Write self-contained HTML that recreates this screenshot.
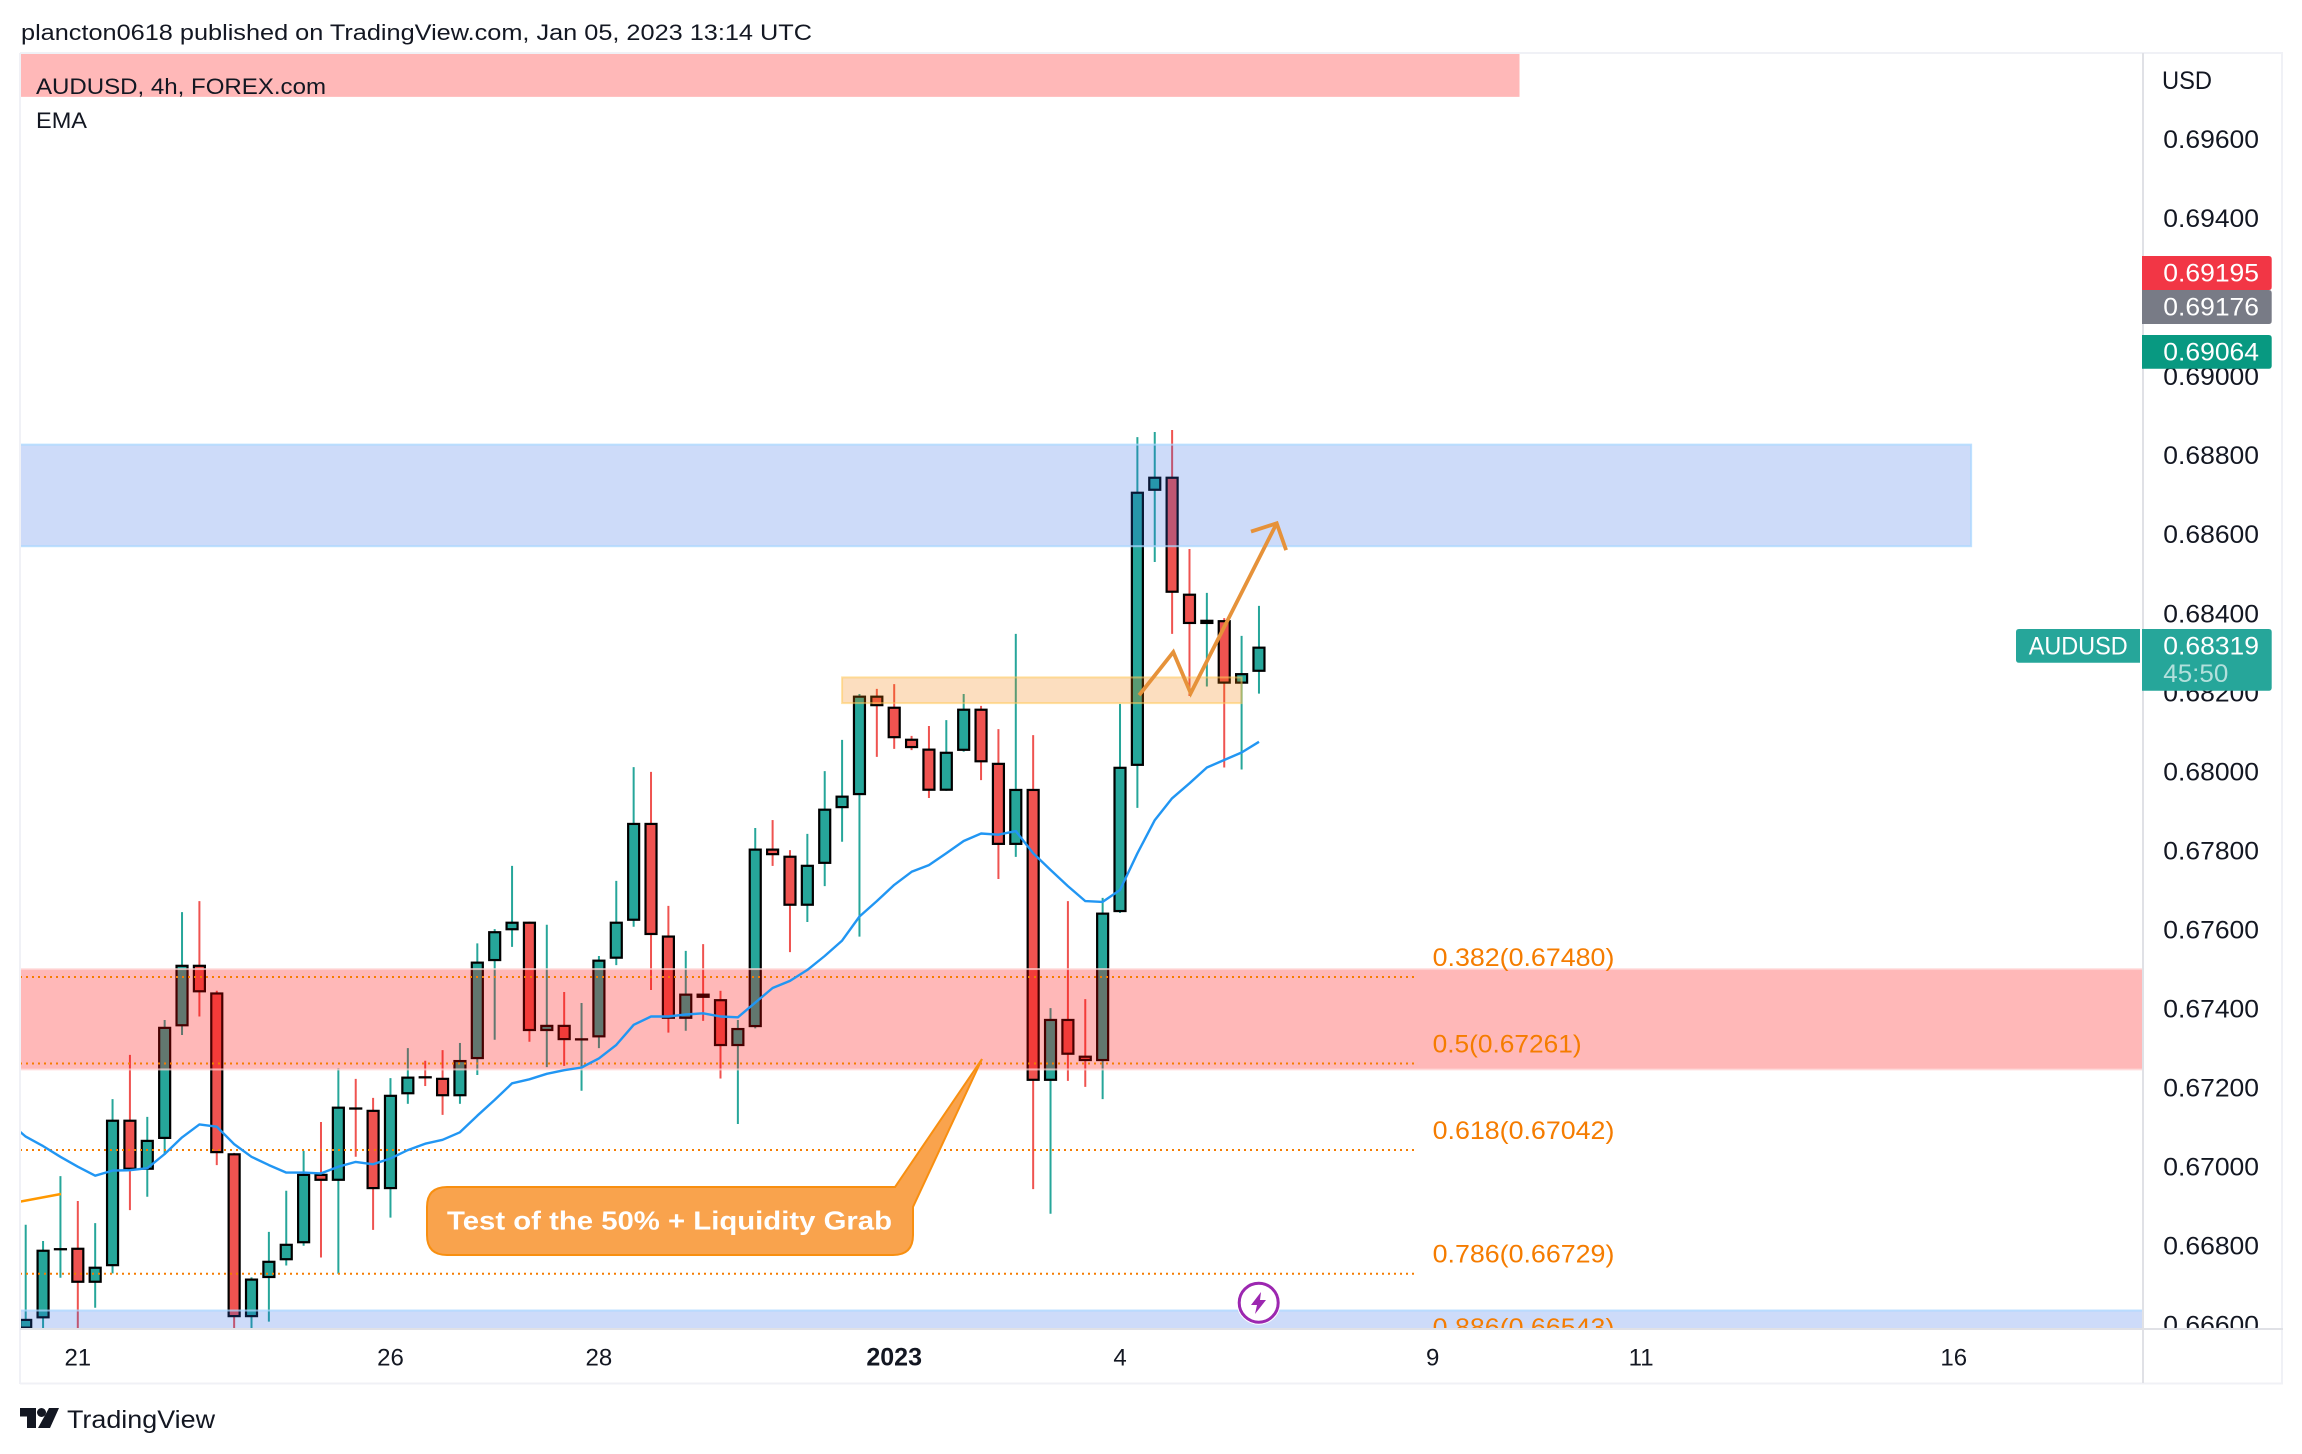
<!DOCTYPE html>
<html lang="en">
<head>
<meta charset="utf-8">
<title>AUDUSD 4h chart</title>
<style>
html,body{margin:0;padding:0;background:#fff;}
svg{display:block;}
text{font-family:"Liberation Sans",sans-serif;}
</style>
</head>
<body>
<svg id="chart" xmlns="http://www.w3.org/2000/svg" width="2302" height="1454" viewBox="0 0 2302 1454">
  <defs>
    <clipPath id="pane-clip"><rect x="20" y="53" width="2122" height="1275.5"/></clipPath>
    <clipPath id="price-axis-clip"><rect x="2144" y="53" width="138" height="1275.5"/></clipPath>
  </defs>
  <rect x="0" y="0" width="2302" height="1454" fill="#ffffff"/>
  <text x="21" y="40" font-size="22.4" fill="#131722" textLength="791" lengthAdjust="spacingAndGlyphs">plancton0618 published on TradingView.com, Jan 05, 2023 13:14 UTC</text>

  <g clip-path="url(#pane-clip)">
    <g id="candle-layer"></g>
    <g id="zone-layer"></g>
    <g id="fib-layer"></g>
    <path d="M20 1201.7L61 1194" fill="none" stroke="#ff9800" stroke-width="2.5"/>
    <path id="ema-line" fill="none" stroke="#2196f3" stroke-width="2.4" stroke-linejoin="round"/>
    <path id="arrow-path" fill="none" stroke="#e6923a" stroke-width="3.8" stroke-linejoin="miter"/>
    <path id="arrow-head" fill="none" stroke="#e6923a" stroke-width="3.8" stroke-linejoin="miter"/>
    <path d="M447 1187H895L982 1059L913 1207V1235Q913 1255 893 1255H447Q427 1255 427 1235V1207Q427 1187 447 1187Z" fill="#f9a34d" stroke="#f88f10" stroke-width="2"/>
    <text x="447" y="1229.5" font-size="26" font-weight="700" fill="#ffffff" textLength="445" lengthAdjust="spacingAndGlyphs">Test of the 50% + Liquidity Grab</text>
    <g>
      <circle cx="1258.7" cy="1302.7" r="22" fill="#ffffff"/>
      <circle cx="1258.7" cy="1302.7" r="19.5" fill="#ffffff" stroke="#9c27b0" stroke-width="3"/>
      <polygon points="1261,1292 1251,1305 1257,1305 1255,1314 1266,1300 1260,1300" fill="#9c27b0"/>
    </g>
    <text x="36" y="94" font-size="22.4" fill="#131722" textLength="290" lengthAdjust="spacingAndGlyphs">AUDUSD, 4h, FOREX.com</text>
    <text x="36" y="128" font-size="22.4" fill="#131722" textLength="51" lengthAdjust="spacingAndGlyphs">EMA</text>
  </g>

  <g id="price-axis" clip-path="url(#price-axis-clip)">
    <text x="2162" y="89" font-size="24.7" fill="#131722" textLength="50" lengthAdjust="spacingAndGlyphs">USD</text>
  </g>
  <g id="time-axis"></g>

  <g>
    <line x1="20" y1="53" x2="2283" y2="53" stroke="#f0f1f6" stroke-width="2"/>
    <line x1="20" y1="53" x2="20" y2="1384" stroke="#f0f1f6" stroke-width="2"/>
    <line x1="2282" y1="53" x2="2282" y2="1384" stroke="#f0f1f6" stroke-width="2"/>
    <line x1="20" y1="1383.5" x2="2283" y2="1383.5" stroke="#f0f1f6" stroke-width="2"/>
    <line x1="20" y1="1329" x2="2283" y2="1329" stroke="#e0e1e6" stroke-width="2"/>
    <line x1="2143" y1="53" x2="2143" y2="1383" stroke="#e0e1e6" stroke-width="2"/>
  </g>

  <g>
    <path d="M2142 256H2268.7Q2271.7 256 2271.7 259V287Q2271.7 290 2268.7 290H2142Z" fill="#f23645"/>
    <text x="2163.3" y="281.5" font-size="24.7" fill="#ffffff" textLength="95.7" lengthAdjust="spacingAndGlyphs">0.69195</text>
  </g>
  <g>
    <path d="M2142 290H2268.7Q2271.7 290 2271.7 293V321Q2271.7 324 2268.7 324H2142Z" fill="#787b86"/>
    <text x="2163.3" y="315.5" font-size="24.7" fill="#ffffff" textLength="95.7" lengthAdjust="spacingAndGlyphs">0.69176</text>
  </g>
  <g>
    <path d="M2142 335H2268.7Q2271.7 335 2271.7 338V365.7Q2271.7 368.7 2268.7 368.7H2142Z" fill="#089981"/>
    <text x="2163.3" y="360.5" font-size="24.7" fill="#ffffff" textLength="95.7" lengthAdjust="spacingAndGlyphs">0.69064</text>
  </g>
  <g>
    <path d="M2140 629H2019Q2016 629 2016 632V659.7Q2016 662.7 2019 662.7H2140Z" fill="#26a69a"/>
    <text x="2028.7" y="654.5" font-size="24.7" fill="#ffffff" textLength="99" lengthAdjust="spacingAndGlyphs">AUDUSD</text>
  </g>
  <g>
    <path d="M2142 629H2268.7Q2271.7 629 2271.7 632V687.7Q2271.7 690.7 2268.7 690.7H2142Z" fill="#26a69a"/>
    <text x="2163.3" y="654.5" font-size="24.7" fill="#ffffff" textLength="95.7" lengthAdjust="spacingAndGlyphs">0.68319</text>
    <text x="2163.3" y="682" font-size="24.7" fill="#ffffff" fill-opacity="0.65" textLength="65" lengthAdjust="spacingAndGlyphs">45:50</text>
  </g>

  <g>
    <polygon points="20,1408 36,1408 36,1428 27,1428 27,1416.5 20,1416.5" fill="#131722"/>
    <circle cx="41.5" cy="1412.5" r="4.5" fill="#131722"/>
    <polygon points="59,1408 49,1408 38,1428 50,1428" fill="#131722"/>
    <text x="67" y="1428" font-size="25" fill="#131722" textLength="148" lengthAdjust="spacingAndGlyphs">TradingView</text>
  </g>
</svg>

<script>
// ---- chart data ----
const barOpen = [0.66590,0.66616,0.66792,0.66795,0.66706,0.66748,0.67119,0.66992,0.67070,0.67355,0.67511,0.67441,0.67034,0.66619,0.66718,0.66763,0.66806,0.66982,0.66964,0.67150,0.67144,0.66943,0.67183,0.67229,0.67225,0.67178,0.67272,0.67520,0.67598,0.67620,0.67343,0.67359,0.67323,0.67327,0.67526,0.67622,0.67870,0.67585,0.67374,0.67438,0.67424,0.67305,0.67353,0.67805,0.67787,0.67660,0.67766,0.67907,0.67940,0.68192,0.68164,0.68083,0.68058,0.67951,0.68052,0.68159,0.68022,0.67814,0.67956,0.67217,0.67374,0.67281,0.67267,0.67644,0.68014,0.68710,0.68746,0.68450,0.68373,0.68383,0.68222,0.68252];
const barHigh = [0.66853,0.66812,0.66976,0.66913,0.66857,0.67171,0.67283,0.67126,0.67371,0.67644,0.67672,0.67445,0.67035,0.66720,0.66835,0.66939,0.67040,0.67113,0.67249,0.67222,0.67174,0.67224,0.67300,0.67268,0.67295,0.67313,0.67565,0.67601,0.67761,0.67620,0.67612,0.67442,0.67414,0.67533,0.67723,0.68011,0.67999,0.67660,0.67546,0.67563,0.67445,0.67371,0.67857,0.67877,0.67801,0.67842,0.68001,0.68080,0.68196,0.68209,0.68221,0.68090,0.68115,0.68130,0.68196,0.68166,0.68107,0.68348,0.68092,0.67401,0.67672,0.67424,0.67680,0.68171,0.68846,0.68859,0.68864,0.68563,0.68452,0.68388,0.68343,0.68419];
const barLow = [0.66560,0.66585,0.66719,0.66590,0.66643,0.66730,0.66890,0.66924,0.67030,0.67333,0.67380,0.67004,0.66590,0.66590,0.66608,0.66750,0.66800,0.66770,0.66729,0.67025,0.66840,0.66871,0.67159,0.67204,0.67131,0.67159,0.67232,0.67321,0.67556,0.67316,0.67252,0.67255,0.67192,0.67300,0.67510,0.67607,0.67447,0.67339,0.67344,0.67369,0.67223,0.67108,0.67350,0.67761,0.67543,0.67619,0.67710,0.67822,0.67582,0.68037,0.68057,0.68054,0.67933,0.67951,0.68050,0.67978,0.67728,0.67784,0.66943,0.66881,0.67217,0.67202,0.67171,0.67642,0.67908,0.68530,0.68348,0.68191,0.68215,0.68010,0.68005,0.68197];
const barClose = [0.66615,0.66790,0.66794,0.66706,0.66747,0.67119,0.66992,0.67068,0.67354,0.67511,0.67441,0.67034,0.66619,0.66717,0.66762,0.66805,0.66982,0.66964,0.67152,0.67148,0.66943,0.67182,0.67228,0.67227,0.67178,0.67270,0.67519,0.67596,0.67620,0.67343,0.67359,0.67320,0.67325,0.67524,0.67620,0.67870,0.67586,0.67374,0.67438,0.67427,0.67305,0.67351,0.67805,0.67788,0.67660,0.67764,0.67906,0.67939,0.68192,0.68165,0.68084,0.68059,0.67951,0.68050,0.68159,0.68023,0.67814,0.67956,0.67217,0.67374,0.67283,0.67267,0.67643,0.68012,0.68708,0.68746,0.68452,0.68373,0.68384,0.68222,0.68249,0.68316];
// EMA values; the first entry belongs to the bar just left of the visible range.
const emaValues = [0.67114,0.67076,0.67052,0.67025,0.67000,0.66977,0.66990,0.66991,0.66996,0.67032,0.67074,0.67107,0.67101,0.67057,0.67025,0.67004,0.66985,0.66985,0.66983,0.67000,0.67012,0.67006,0.67021,0.67042,0.67058,0.67068,0.67087,0.67129,0.67169,0.67211,0.67221,0.67235,0.67244,0.67251,0.67274,0.67308,0.67359,0.67380,0.67380,0.67385,0.67388,0.67380,0.67378,0.67415,0.67452,0.67470,0.67498,0.67533,0.67572,0.67633,0.67672,0.67713,0.67746,0.67763,0.67793,0.67824,0.67843,0.67840,0.67849,0.67793,0.67751,0.67710,0.67672,0.67670,0.67700,0.67793,0.67877,0.67932,0.67970,0.68010,0.68029,0.68048,0.68075];
const priceTicks = [0.696,0.694,0.692,0.690,0.688,0.686,0.684,0.682,0.680,0.678,0.676,0.674,0.672,0.670,0.668,0.666];
const timeLabels = ["21","26","28","2023","4","9","11","16"];
const timeLabelBars = [3,21,33,50,63,81,93,111];
const fibRatios = ["0.382","0.5","0.618","0.786","0.886"];
const fibPrices = [0.67480,0.67261,0.67042,0.66729,0.66543];
const zoneNames = ["top-supply-zone","upper-blue-zone","breakout-orange-zone","mid-red-zone","lower-blue-zone"];
const zoneUpper = [0.69818,0.68827,0.68238,0.67500,0.66636];
const zoneLower = [0.69707,0.68570,0.68173,0.67246,0.66500];
const zoneStartBar = [-3,-3,47,-3,-3];
const zoneEndBar = [86,112,70,125,125];
const zoneFill = ["rgba(255,0,0,0.28)","rgba(41,98,230,0.23)","rgba(245,124,0,0.25)","rgba(255,0,0,0.28)","rgba(41,98,230,0.23)"];
const zoneEdge = ["none","rgba(170,215,255,0.75)","rgba(255,200,90,0.55)","rgba(255,215,215,0.7)","rgba(170,215,255,0.75)"];
const arrowBars = [64.1,66.07,67.07,72.02];
const arrowPrices = [0.68193,0.68302,0.68198,0.68628];
const arrowHeadBars = [70.54,72.02,72.56];
const arrowHeadPrices = [0.68607,0.68628,0.68560];

// ---- axis functions ----
const xOf = function (bar) { return 25.7 + bar * 17.37; };
const yOf = function (price) { return 455.3 + (0.688 - price) * 39520; };

const SVGNS = "http://www.w3.org/2000/svg";
function make(tag, parent, attrs) {
  const el = document.createElementNS(SVGNS, tag);
  for (const k in attrs) el.setAttribute(k, attrs[k]);
  parent.appendChild(el);
  return el;
}

const candleLayer = document.getElementById("candle-layer");
const UP = "#26a69a", DOWN = "#ef5350";
barOpen.forEach(function (open, i) {
  const close = barClose[i];
  const color = close >= open ? UP : DOWN;
  const cx = xOf(i);
  const top = yOf(Math.max(open, close));
  const bottom = yOf(Math.min(open, close));
  const wick = make("line", candleLayer, {x1: cx, x2: cx, y1: yOf(barHigh[i]), y2: yOf(barLow[i]), stroke: color, "stroke-width": 2});
  
  
  const body = make("rect", candleLayer, {x: cx - 5.5, width: 11, y: top + 1.1, height: Math.max(bottom - top - 2.2, 0.1), fill: color, stroke: "#000000", "stroke-width": 2.2});
  
  
});

const zoneLayer = document.getElementById("zone-layer");
zoneNames.forEach(function (name, i) {
  const x1 = xOf(zoneStartBar[i]);
  const x2 = xOf(zoneEndBar[i]);
  const zone = make("rect", zoneLayer, {x: x1, width: x2 - x1, y: yOf(zoneUpper[i]), height: yOf(zoneLower[i]) - yOf(zoneUpper[i]), fill: zoneFill[i], stroke: zoneEdge[i], "stroke-width": 2});
  
  
});

const fibLayer = document.getElementById("fib-layer");
fibPrices.forEach(function (price, i) {
  const ly = yOf(price);
  const line = make("line", fibLayer, {x1: 20, x2: xOf(80), y1: ly, y2: ly, stroke: "#f57c00", "stroke-width": 2, "stroke-dasharray": "2 4"});
  
  
  const label = make("text", fibLayer, {x: 1432.6, y: ly - 11.2, "font-size": 24.7, fill: "#f57c00", textLength: i === 1 ? 149 : 181.8, lengthAdjust: "spacingAndGlyphs"});
  label.textContent = fibRatios[i] + "(" + price.toFixed(5) + ")";
  
  
});

document.getElementById("ema-line").setAttribute("d", emaValues.map(function (v, i) {
  return (i ? "L" : "M") + xOf(i - 1).toFixed(1) + " " + yOf(v).toFixed(1);
}).join(""));
document.getElementById("arrow-path").setAttribute("d", arrowBars.map(function (b, i) {
  return (i ? "L" : "M") + xOf(b).toFixed(1) + " " + yOf(arrowPrices[i]).toFixed(1);
}).join(""));
document.getElementById("arrow-head").setAttribute("d", arrowHeadBars.map(function (b, i) {
  return (i ? "L" : "M") + xOf(b).toFixed(1) + " " + yOf(arrowHeadPrices[i]).toFixed(1);
}).join(""));

const priceAxis = document.getElementById("price-axis");
priceTicks.forEach(function (price) {
  const tick = make("text", priceAxis, {x: 2163.3, y: yOf(price) + 8.9, "font-size": 24.7, fill: "#131722", textLength: 95.7, lengthAdjust: "spacingAndGlyphs"});
  tick.textContent = price.toFixed(5);
  
  
});

const timeAxis = document.getElementById("time-axis");
timeLabels.forEach(function (label, i) {
  const bold = label === "2023";
  const tick = make("text", timeAxis, {x: xOf(timeLabelBars[i]), y: 1365.6, "font-size": bold ? 25 : 24, "font-weight": bold ? 700 : 400, fill: "#131722", "text-anchor": "middle"});
  tick.textContent = label;
  
  
});
</script>
</body>
</html>
